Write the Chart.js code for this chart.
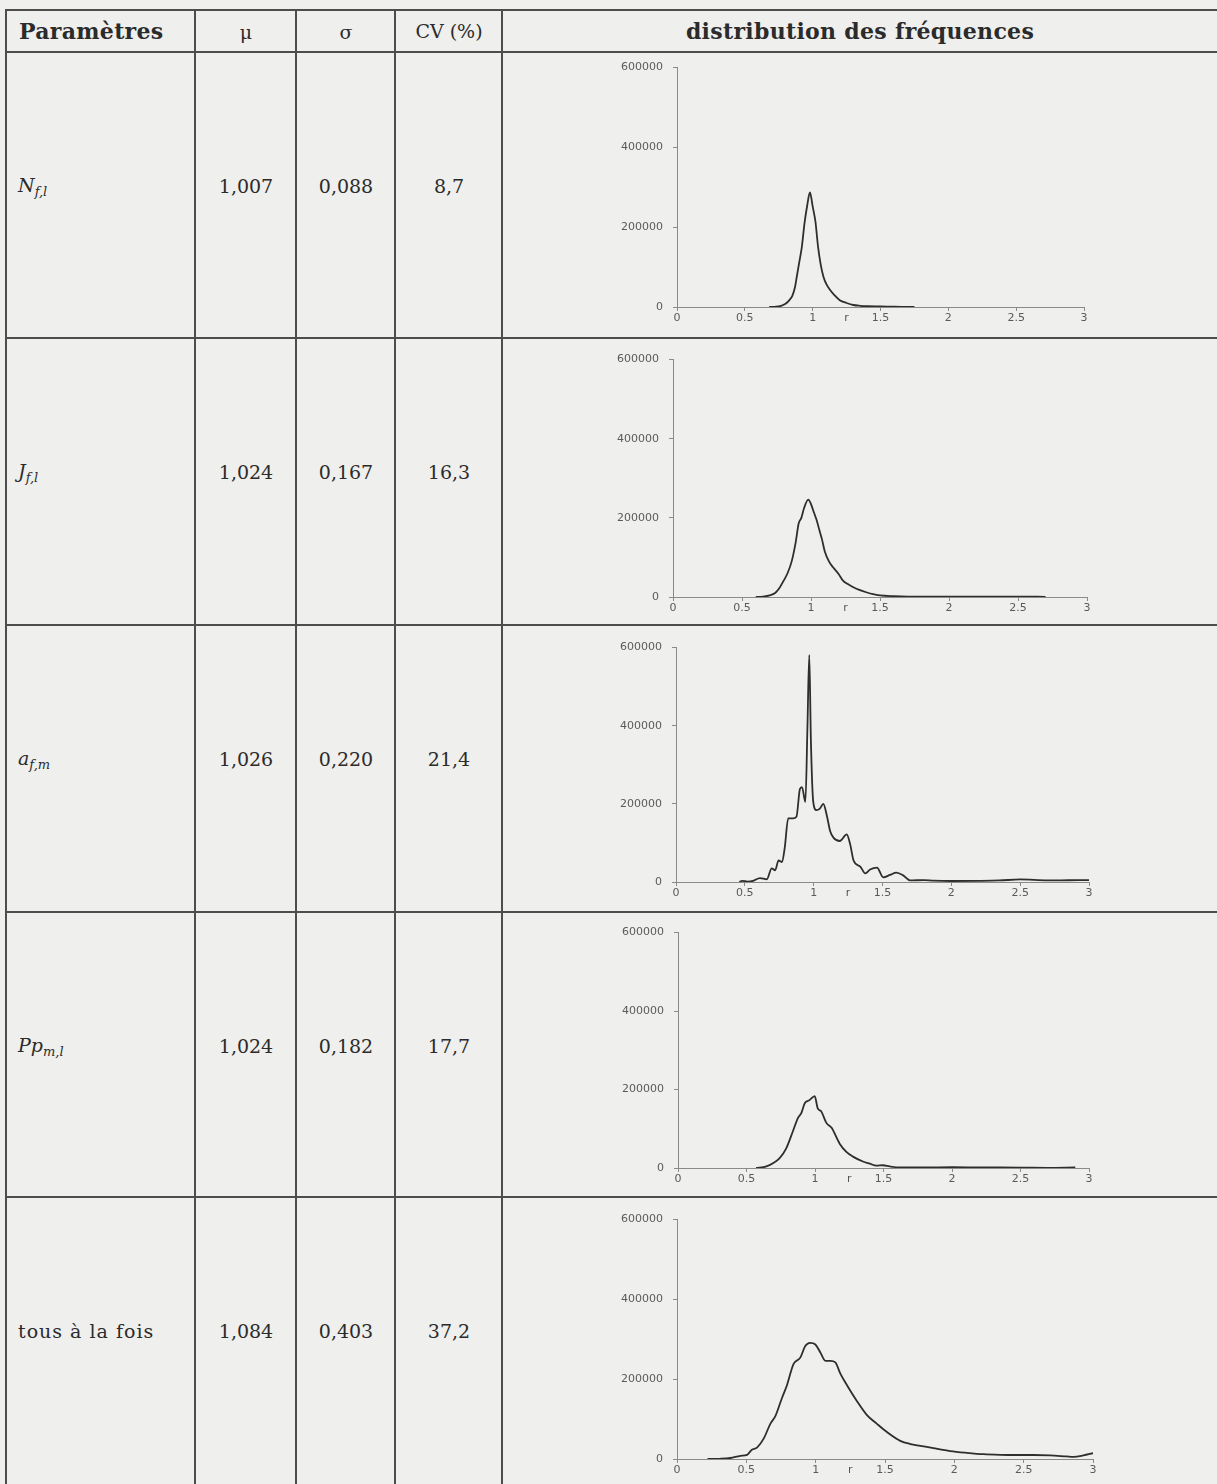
<!DOCTYPE html>
<html>
<head>
<meta charset="utf-8">
<script src="https://cdn.jsdelivr.net/npm/chart.js@4.4.0/dist/chart.umd.min.js"></script>
<style>
  html, body { margin: 0; padding: 0; background: #efefed; }
  #page { position: relative; width: 1217px; height: 1484px; overflow: hidden; background: #efefed;
          font-family: "DejaVu Serif", "Liberation Serif", serif; color: #2b2b2b; }
  .hl { position: absolute; height: 2px; background: #4d4d4d; }
  .vl { position: absolute; width: 2px; background: #4d4d4d; }
  .txt { position: absolute; white-space: nowrap; transform: translate(-50%, -50%); font-size: 19px; }
  .lbl { position: absolute; white-space: nowrap; transform: translateY(-50%); font-size: 19px; }
  .wide { letter-spacing: 1px; }
  .hd { font-weight: bold; font-size: 22px; letter-spacing: 0.3px; }
  sub { font-size: 13px; vertical-align: -4px; }
  canvas { position: absolute; }
</style>
</head>
<body>
<div id="page"></div>
<script>
// table content
var paramLabels = ['<i>N</i><sub><i>f,l</i></sub>', '<i>J</i><sub><i>f,l</i></sub>', '<i>a</i><sub><i>f,m</i></sub>', '<i>Pp</i><sub><i>m,l</i></sub>', '<span class="wide">tous à la fois</span>'];
var muVals = ['1,007', '1,024', '1,026', '1,024', '1,084'];
var sigmaVals = ['0,088', '0,167', '0,220', '0,182', '0,403'];
var cvVals = ['8,7', '16,3', '21,4', '17,7', '37,2'];

// axis ticks
var xTicks = [0, 0.5, 1, 1.5, 2, 2.5, 3];
var yTicks = [0, 200000, 400000, 600000];

// frequency distributions (r, frequency)
var rNfl = [0.68,0.72,0.76,0.80,0.83,0.85,0.87,0.88,0.90,0.92,0.94,0.96,0.98,1.00,1.02,1.04,1.06,1.08,1.10,1.13,1.16,1.20,1.25,1.30,1.35,1.40,1.50,1.60,1.70,1.75];
var fNfl = [0,500,2000,8000,18000,28000,50000,70000,110000,150000,210000,255000,287000,252000,215000,150000,105000,75000,58000,42000,30000,17000,10000,5000,3000,2000,1500,800,300,0];

var rJfl = [0.60,0.65,0.70,0.74,0.77,0.80,0.83,0.86,0.89,0.91,0.93,0.95,0.98,1.00,1.02,1.04,1.06,1.08,1.10,1.13,1.16,1.20,1.23,1.27,1.30,1.35,1.40,1.45,1.50,1.60,1.70,2.0,2.3,2.5,2.7];
var fJfl = [0,1000,4000,10000,22000,40000,60000,90000,140000,185000,200000,225000,246000,235000,215000,195000,170000,145000,115000,90000,75000,58000,42000,32000,26000,18000,12000,7000,4000,2000,1000,800,600,800,500];

var rAfm = [0.46,0.48,0.52,0.56,0.61,0.66,0.695,0.72,0.745,0.77,0.79,0.815,0.85,0.875,0.90,0.915,0.94,0.955,0.968,0.98,0.997,1.02,1.045,1.07,1.095,1.12,1.145,1.19,1.24,1.265,1.29,1.34,1.375,1.41,1.46,1.505,1.555,1.60,1.65,1.70,1.80,1.87,2.0,2.2,2.35,2.5,2.7,2.85,3.0];
var fAfm = [0,3000,1000,3000,10000,7000,35000,30000,55000,51000,88000,163000,163000,167000,238000,243000,205000,400000,581000,360000,205000,184000,188000,200000,171000,130000,113000,105000,122000,97000,55000,39000,22000,32000,37000,12000,18000,24000,17000,4000,5000,3500,2500,3000,4000,6500,4000,4500,5000];

var rPpml = [0.57,0.645,0.693,0.742,0.79,0.84,0.876,0.90,0.925,0.96,0.998,1.02,1.046,1.083,1.12,1.18,1.229,1.277,1.35,1.40,1.448,1.496,1.545,1.62,1.8,2.0,2.2,2.5,2.7,2.9];
var fPpml = [0,4000,12000,25000,50000,95000,128000,140000,165000,173000,183000,152000,144000,115000,103000,62000,41000,29000,16500,11000,6000,7000,4000,1500,1500,2000,1500,1000,500,1500];

var rTous = [0.22,0.31,0.385,0.457,0.505,0.54,0.577,0.625,0.673,0.71,0.757,0.793,0.84,0.889,0.925,0.96,0.998,1.034,1.07,1.106,1.142,1.178,1.226,1.298,1.37,1.442,1.514,1.61,1.683,1.755,1.85,1.97,2.09,2.21,2.33,2.45,2.57,2.69,2.81,2.86,2.93,3.0];
var fTous = [0,500,2500,8000,10500,23000,28500,51000,88000,108000,153000,185000,238000,254000,283000,291000,287000,267000,246000,246000,242000,214000,185000,145000,110000,88000,67500,45500,37500,33000,27000,20000,15500,12000,10500,10000,10000,9000,6500,5500,9000,14500];

var series = [[rNfl, fNfl], [rJfl, fJfl], [rAfm, fAfm], [rPpml, fPpml], [rTous, fTous]];

// layout
var rowTops = [52, 338, 625, 912, 1197];
var colLines = [6, 195, 296, 395, 502];
var plotBoxes = [[677, 61, 1084, 307], [673, 353, 1087, 597], [676, 641, 1089, 882], [678, 926, 1089, 1168], [677, 1213, 1093, 1459]];

var page = document.getElementById('page');
function add(cls, css, html) {
  var d = document.createElement('div');
  d.className = cls;
  d.style.cssText = css;
  if (html) d.innerHTML = html;
  page.appendChild(d);
  return d;
}

// grid lines
[10].concat(rowTops).forEach(function(y){ add('hl', 'left:6px;width:1211px;top:' + (y - 1) + 'px;'); });
colLines.forEach(function(x){ add('vl', 'left:' + (x - 1) + 'px;top:9px;height:1480px;'); });

// header
add('lbl hd', 'left:19px;top:31px;', 'Paramètres');
add('txt', 'left:246px;top:32px;', 'μ');
add('txt', 'left:346px;top:32px;', 'σ');
add('txt', 'left:449px;top:31px;', 'CV (%)');
add('txt hd', 'left:860px;top:31px;', 'distribution des fréquences');

for (var i = 0; i < 5; i++) {
  var ty = rowTops[i] + 134;
  add('lbl', 'left:18px;top:' + ty + 'px;', paramLabels[i]);
  add('txt', 'left:246px;top:' + ty + 'px;', muVals[i]);
  add('txt', 'left:346px;top:' + ty + 'px;', sigmaVals[i]);
  add('txt', 'left:449px;top:' + ty + 'px;', cvVals[i]);
}

// 'r' axis title drawn on the tick label line
var rTitle = {
  id: 'rTitle',
  afterDraw: function(chart) {
    var c = chart.ctx, xs = chart.scales.x;
    c.save();
    c.font = '11px "DejaVu Sans"';
    c.fillStyle = '#555';
    c.textAlign = 'center';
    c.textBaseline = 'top';
    c.fillText('r', xs.getPixelForValue(1.25), xs.top + 6);
    c.restore();
  }
};

var tickFont = { family: 'DejaVu Sans', size: 11 };
var padL = 77, padT = 10, padR = 14, axisH = 22;

series.forEach(function(s, i) {
  var b = plotBoxes[i];
  var cv = document.createElement('canvas');
  var w = padL + (b[2] - b[0]) + padR, h = padT + (b[3] - b[1]) + axisH;
  cv.width = w; cv.height = h;
  cv.style.left = (b[0] - padL) + 'px';
  cv.style.top = (b[1] - padT) + 'px';
  cv.style.width = w + 'px'; cv.style.height = h + 'px';
  page.appendChild(cv);

  var pts = s[0].map(function(r, k){ return { x: r, y: s[1][k] }; });

  new Chart(cv, {
    type: 'line',
    data: { datasets: [{ data: pts, borderColor: '#2e2e2e', borderWidth: 1.8, pointRadius: 0,
                         fill: false, cubicInterpolationMode: 'monotone' }] },
    options: {
      responsive: false, animation: false, devicePixelRatio: 1,
      layout: { padding: { top: padT, right: padR, left: 0, bottom: 0 } },
      plugins: { legend: { display: false }, tooltip: { enabled: false } },
      scales: {
        x: {
          type: 'linear', min: 0, max: 3,
          afterBuildTicks: function(sc){ sc.ticks = xTicks.map(function(v){ return { value: v }; }); },
          afterFit: function(sc){ sc.height = axisH; },
          ticks: { color: '#5a5a5a', font: tickFont, padding: 1, maxRotation: 0, autoSkip: false,
                   callback: function(v){ return String(v); } },
          grid: { drawOnChartArea: false, tickLength: 4, color: '#8a8a8a' },
          border: { color: '#8a8a8a', width: 1 }
        },
        y: {
          min: 0, max: 600000,
          afterBuildTicks: function(sc){ sc.ticks = yTicks.map(function(v){ return { value: v }; }); },
          afterFit: function(sc){ sc.width = padL; },
          ticks: { color: '#5a5a5a', font: tickFont, padding: 10, autoSkip: false,
                   callback: function(v){ return String(v); } },
          grid: { drawOnChartArea: false, tickLength: 4, color: '#8a8a8a' },
          border: { color: '#8a8a8a', width: 1 }
        }
      }
    },
    plugins: [rTitle]
  });
});
</script>
</body>
</html>
